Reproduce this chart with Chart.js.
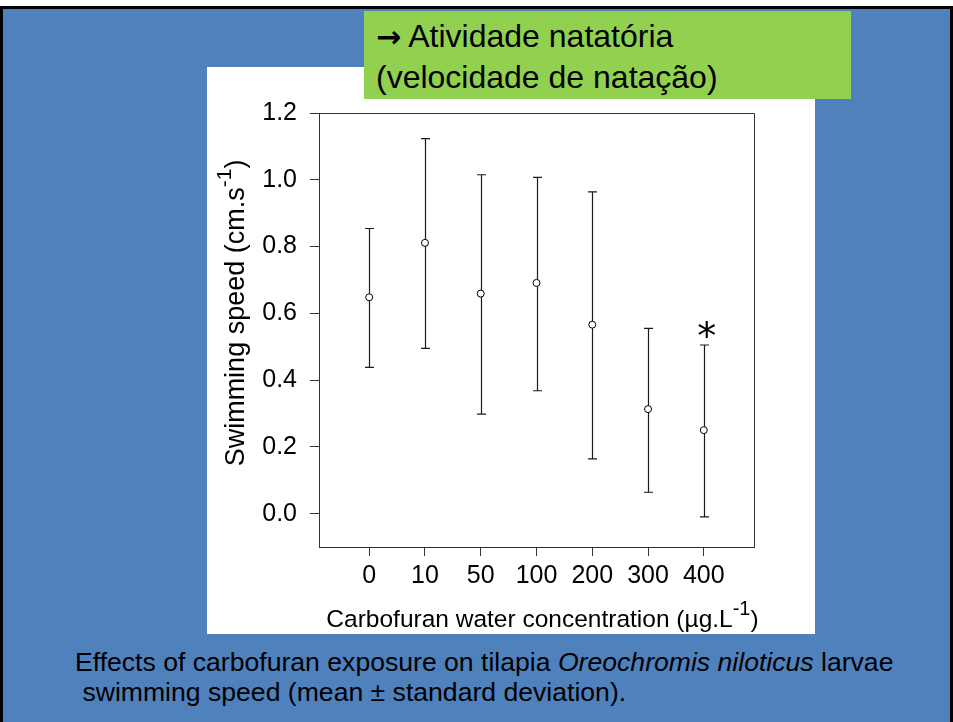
<!DOCTYPE html>
<html>
<head>
<meta charset="utf-8">
<script src="https://cdn.jsdelivr.net/npm/chart.js@4/dist/chart.umd.min.js"></script>
<style>
html,body{margin:0;padding:0;background:#fff;width:953px;height:722px;overflow:hidden;font-family:"Liberation Sans",Arial,sans-serif;}
#slide{position:absolute;left:0;top:6px;width:947px;height:716px;background:#4F81BD;border:3px solid #000;border-bottom:none;}
#panel{position:absolute;left:207px;top:67px;width:608px;height:567px;background:#fff;}
#panel canvas{display:block;}
#green{position:absolute;left:364px;top:11px;width:475px;height:83px;background:#92D050;padding:5px 0 0 12px;font-size:32px;line-height:40px;color:#000;white-space:pre;}
#green .arr{font-family:"DejaVu Sans",sans-serif;font-size:30px;font-weight:bold;}
#caption{position:absolute;left:75px;top:647px;font-size:26.6px;line-height:30px;color:#000;white-space:pre;}
</style>
</head>
<body>
<div id="slide"></div>
<div id="panel"><canvas id="c" width="608" height="567" style="width:608px;height:567px"></canvas></div>
<div id="green"><span class="arr">→</span> Atividade natatória
(velocidade de natação)</div>
<div id="caption">Effects of carbofuran exposure on tilapia <i>Oreochromis niloticus</i> larvae
 swimming speed (mean ± standard deviation).</div>
<script>
const concentrations = ['0', '10', '50', '100', '200', '300', '400'];
const meanSpeed = [0.648, 0.811, 0.659, 0.691, 0.566, 0.313, 0.250];
const upperSD = [0.854, 1.123, 1.015, 1.007, 0.964, 0.555, 0.505];
const lowerSD = [0.438, 0.495, 0.298, 0.368, 0.164, 0.064, -0.010];
const yTicks = [0.0, 0.2, 0.4, 0.6, 0.8, 1.0, 1.2];
const significance = ['', '', '', '', '', '', '*'];
const xTitle = ['Carbofuran water concentration (µg.L', '-1', ')'];
const yTitle = ['Swimming speed (cm.s', '-1', ')'];

const FONT = '"Liberation Sans", Arial, sans-serif';

function drawSupText(ctx, parts, cx, baseY, size, supSize, raise) {
  ctx.font = size + 'px ' + FONT;
  const w0 = ctx.measureText(parts[0]).width;
  const w2 = ctx.measureText(parts[2]).width;
  ctx.font = supSize + 'px ' + FONT;
  const w1 = ctx.measureText(parts[1]).width;
  let x = cx - (w0 + w1 + w2) / 2;
  ctx.textAlign = 'left';
  ctx.textBaseline = 'alphabetic';
  ctx.font = size + 'px ' + FONT;
  ctx.fillText(parts[0], x, baseY); x += w0;
  ctx.font = supSize + 'px ' + FONT;
  ctx.fillText(parts[1], x, baseY - raise); x += w1;
  ctx.font = size + 'px ' + FONT;
  ctx.fillText(parts[2], x, baseY);
}

const extras = {
  id: 'extras',
  beforeDatasetsDraw(chart) {
    const ctx = chart.ctx, xs = chart.scales.x, ys = chart.scales.y;
    ctx.save();
    ctx.strokeStyle = '#1a1a1a';
    ctx.lineWidth = 1.2;
    for (let i = 0; i < meanSpeed.length; i++) {
      const px = Math.round(xs.getPixelForValue(i)) + 0.5;
      const yu = ys.getPixelForValue(upperSD[i]);
      const yl = ys.getPixelForValue(lowerSD[i]);
      ctx.beginPath();
      ctx.moveTo(px, yu); ctx.lineTo(px, yl);
      ctx.moveTo(px - 4.5, yu); ctx.lineTo(px + 4.5, yu);
      ctx.moveTo(px - 4.5, yl); ctx.lineTo(px + 4.5, yl);
      ctx.stroke();
    }
    ctx.restore();
  },
  afterDraw(chart) {
    const ctx = chart.ctx, a = chart.chartArea, xs = chart.scales.x, ys = chart.scales.y;
    ctx.save();
    ctx.strokeStyle = '#333';
    ctx.lineWidth = 1;
    ctx.beginPath();
    ctx.moveTo(a.left, a.top + 0.5); ctx.lineTo(a.right + 0.5, a.top + 0.5);
    ctx.lineTo(a.right + 0.5, a.bottom);
    ctx.stroke();
    ctx.fillStyle = '#000';
    ctx.font = '38px "DejaVu Sans", sans-serif';
    ctx.textAlign = 'center';
    ctx.textBaseline = 'middle';
    for (let i = 0; i < significance.length; i++) {
      if (!significance[i]) continue;
      ctx.fillText(significance[i], xs.getPixelForValue(i) + 3, ys.getPixelForValue(upperSD[i]) - 6);
    }
    ctx.fillStyle = '#000';
    drawSupText(ctx, xTitle, (a.left + a.right) / 2 + 6, 560, 24.5, 20, 12);
    ctx.translate(37, (a.top + a.bottom) / 2 - 17);
    ctx.rotate(-Math.PI / 2);
    drawSupText(ctx, yTitle, 0, 0, 27, 21, 13);
    ctx.restore();
  }
};

new Chart(document.getElementById('c'), {
  type: 'scatter',
  data: {
    datasets: [{
      data: meanSpeed.map((v, i) => ({ x: i, y: v })),
      pointStyle: 'circle',
      pointRadius: 3.5,
      borderWidth: 1,
      borderColor: '#000',
      backgroundColor: '#fff',
      showLine: false
    }]
  },
  options: {
    responsive: false,
    animation: false,
    devicePixelRatio: 1,
    layout: { padding: { top: 46, right: 61, left: 0, bottom: 0 } },
    plugins: { legend: { display: false }, tooltip: { enabled: false } },
    scales: {
      x: {
        type: 'linear', min: -0.9, max: 6.9,
        afterBuildTicks: s => { s.ticks = concentrations.map((c, i) => ({ value: i })); },
        afterFit: s => { s.height = 87; },
        ticks: {
          callback: v => concentrations[v] ?? '',
          font: { size: 25, family: FONT }, color: '#000', padding: 5,
          maxRotation: 0, minRotation: 0, autoSkip: false
        },
        grid: { drawOnChartArea: false, drawTicks: true, tickLength: 9, color: '#333', lineWidth: 1 },
        border: { display: true, color: '#333', width: 1 }
      },
      y: {
        type: 'linear', min: -0.1, max: 1.2,
        afterBuildTicks: s => { s.ticks = yTicks.map(v => ({ value: v })); },
        afterFit: s => { s.width = 112; },
        ticks: {
          callback: v => Number(v).toFixed(1),
          font: { size: 25, family: FONT }, color: '#000', padding: 13, autoSkip: false
        },
        grid: { drawOnChartArea: false, drawTicks: true, tickLength: 9, color: '#333', lineWidth: 1 },
        border: { display: true, color: '#333', width: 1 }
      }
    }
  },
  plugins: [extras]
});
</script>
</body>
</html>
